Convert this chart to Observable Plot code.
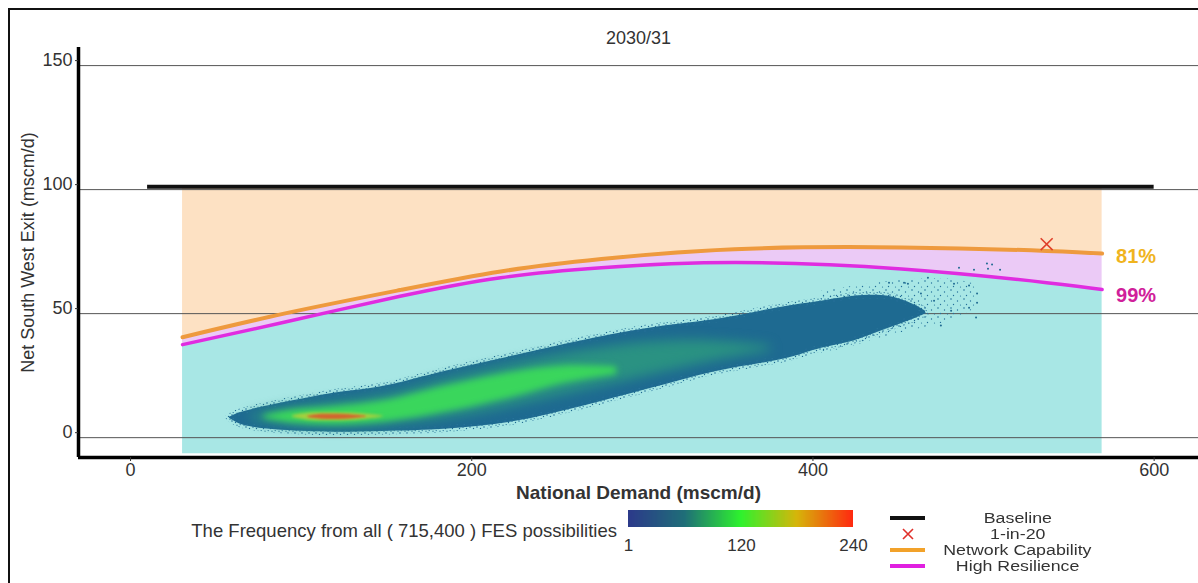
<!DOCTYPE html>
<html><head><meta charset="utf-8">
<script src="https://cdn.jsdelivr.net/npm/d3@7"></script>
<script src="https://cdn.jsdelivr.net/npm/@observablehq/plot@0.6"></script>
<style>
html,body{margin:0;padding:0;background:#fff;overflow:hidden;width:1198px;height:583px;font-family:"Liberation Sans",Arial,sans-serif;color:#333}
#frame{position:absolute;left:8px;top:8px;width:1400px;height:800px;border:2px solid #111;box-sizing:border-box}
#chart{position:absolute;left:0;top:0}
#caption{position:absolute;right:581px;top:520px;font-size:18.5px;white-space:nowrap;color:#333}
#cbar{position:absolute;left:618px;top:509px}
#cbar svg{font:17px "Liberation Sans",Arial,sans-serif !important;color:#333}
#cbar .tick line{display:none}
#keys{position:absolute;left:885px;top:510px}
.krow{display:flex;height:16px;align-items:center}
.kicon{width:45px;height:16px;display:flex;align-items:center;justify-content:center}
.kline{width:35px;height:4px}
.klabel{width:165px;margin-left:5px;text-align:center;font-size:14px;line-height:16px;color:#333;white-space:nowrap}
.klabel span{display:inline-block;transform:scaleX(1.27)}
#defs{position:absolute;width:0;height:0}
</style></head>
<body>
<svg id="defs">
  <defs>
    <pattern id="speckle" width="7" height="6" patternUnits="userSpaceOnUse">
      <circle cx="1" cy="1" r="0.8" fill="#25709a"/>
      <circle cx="4.5" cy="2.5" r="0.7" fill="#1e6a91"/>
      <circle cx="2.2" cy="4.6" r="0.7" fill="#2a769c"/>
      <circle cx="6" cy="5.2" r="0.6" fill="#1e6a91"/>
    </pattern>
    <pattern id="sparse" width="13" height="9" patternUnits="userSpaceOnUse">
      <circle cx="2" cy="2" r="0.8" fill="#22709a"/>
      <circle cx="8.5" cy="4" r="0.7" fill="#22709a"/>
      <circle cx="4.5" cy="7.5" r="0.7" fill="#22709a"/>
      <circle cx="11.5" cy="8" r="0.6" fill="#22709a"/>
    </pattern>
  </defs>
</svg>
<div id="frame"></div>
<div id="chart"></div>
<div id="caption"></div>
<div id="cbar"></div>
<div id="keys"></div>
<script>
// ---- text ----
const titleText = "2030/31";
const xLabel = "National Demand (mscm/d)";
const yLabel = "Net South West Exit (mscm/d)";
const captionText = "The Frequency from all ( 715,400 ) FES possibilities";
const legendNames = ["Baseline", "1-in-20", "Network Capability", "High Resilience"];
const capLabel = "81%";
const resLabel = "99%";

// ---- axes ----
const xTicks = [0, 200, 400, 600];
const yTicks = [0, 50, 100, 150];
const xDomain = [-30.5, 626];
const yDomain = [-8, 157.3];

// ---- baseline & 1-in-20 ----
const baselineValue = 101.2;
const baselineX = [10, 600];
const oneIn20 = {x: 537, y: 78};

// ---- capability curves ----
const curveX      = [30.5, 90, 158, 217, 276, 354, 452, 537, 569.5];
const capability  = [40.5, 50, 59.5, 67, 72, 76, 76.7, 75.3, 74.2];
const resilience  = [37.5, 46.5, 57, 64.5, 68.5, 70.6, 68, 62.5, 59.7];
const shadeTop = 100.8;
const shadeFloor = -6.5;

// ---- frequency cloud (bands) ----
const cloudOuterX  = [58, 64, 72, 85, 100, 120, 147, 186, 225, 264, 303, 342, 385, 405, 424, 444, 458, 466];
const cloudOuterLo = [7.8, 5.5, 4.2, 3.2, 2.6, 2.2, 2.5, 3.5, 6.5, 12.5, 19.5, 26.5, 32, 36, 39, 44, 47.5, 50];
const cloudOuterHi = [8.2, 10, 11.5, 13.5, 15.5, 18, 20.5, 27, 33, 39, 44, 47.5, 53, 55, 57, 57, 54, 51];
const cloudTealX   = [70, 90, 120, 150, 186, 225, 264, 303, 342, 375];
const cloudTealLo  = [7.6, 5.2, 4.2, 5, 8, 13, 19, 25, 31, 35];
const cloudTealHi  = [8.8, 12, 14.5, 17.5, 24, 30, 35, 38.5, 39, 37];
const cloudGreenX  = [78, 95, 120, 150, 186, 225, 255, 285];
const cloudGreenLo = [7.8, 6, 5.2, 6.5, 10.5, 16.5, 22, 25.5];
const cloudGreenHi = [8.8, 11, 12.5, 15, 21, 26.5, 29, 28.5];
const cloudYellowX  = [95, 105, 120, 135, 148];
const cloudYellowLo = [8.2, 7, 6.8, 7.2, 8.3];
const cloudYellowHi = [8.8, 9.9, 10, 9.6, 8.7];
const cloudRedX  = [104, 112, 122, 130, 138];
const cloudRedLo = [8.1, 7.4, 7.3, 7.6, 8.2];
const cloudRedHi = [8.6, 9.4, 9.4, 9.1, 8.6];
const sparseBandX  = [405, 424, 444, 463, 480, 495];
const sparseBandLo = [34, 37, 41, 44, 47, 52];
const sparseBandHi = [59, 61, 63, 64, 64, 62];
const sparseX = [485.6, 494.4, 502, 505, 502.6, 509.7, 491.5, 496.2, 496.2, 491.5, 475, 495.6, 481, 482.7, 471, 463.3, 467.4, 455.7, 453.4, 444.6];
const sparseY = [68.5, 67.7, 70.2, 69.8, 68.1, 67.7, 61.3, 58.1, 54.4, 52.4, 45.2, 48.4, 51.2, 62.1, 55.2, 58.1, 64.5, 62.1, 62.5, 62.5];

// ---- colour bar ----
const freqStops  = [1, 60, 120, 180, 240];
const freqColors = ["#2c3a8a", "#1f6e78", "#2ef22e", "#d6b60a", "#ff2a10"];
const freqTicks  = [1, 120, 240];

// ---- build tables ----
const curveTable = curveX.map((x, i) => ({x, cap: capability[i], res: resilience[i]}));
const band = (xs, lo, hi) => xs.map((x, i) => ({x, lo: lo[i], hi: hi[i]}));
const outer = band(cloudOuterX, cloudOuterLo, cloudOuterHi);
const teal = band(cloudTealX, cloudTealLo, cloudTealHi);
const green = band(cloudGreenX, cloudGreenLo, cloudGreenHi);
const yellow = band(cloudYellowX, cloudYellowLo, cloudYellowHi);
const red = band(cloudRedX, cloudRedLo, cloudRedHi);
const sparseBand = band(sparseBandX, sparseBandLo, sparseBandHi);
const sparse = sparseX.map((x, i) => ({x, y: sparseY[i]}));
const capEnd = curveTable[curveTable.length - 1];

const font = '"Liberation Sans", Arial, sans-serif';
const cc = "catmull-rom";
const chart = Plot.plot({
  width: 1198, height: 510,
  marginLeft: 78, marginRight: 0, marginTop: 47, marginBottom: 53,
  x: {domain: xDomain},
  y: {domain: yDomain},
  style: {fontFamily: font, fontSize: "18px", color: "#333", background: "transparent", overflow: "visible"},
  marks: [
    Plot.areaY(curveTable, {x: "x", y1: "cap", y2: shadeTop, fill: "#fde1c3", curve: "natural"}),
    Plot.areaY(curveTable, {x: "x", y1: "res", y2: "cap", fill: "#ebcaf6", curve: "natural"}),
    Plot.areaY(curveTable, {x: "x", y1: shadeFloor, y2: "res", fill: "#a8e7e5", curve: "natural"}),
    Plot.gridY(yTicks, {stroke: "#555", strokeOpacity: 1, strokeWidth: 1}),
    Plot.areaY(sparseBand, {x: "x", y1: "lo", y2: "hi", fill: "url(#sparse)", curve: cc}),
    Plot.areaY(outer, {x: "x", y1: "lo", y2: "hi", fill: "#1e6a91", stroke: "url(#speckle)", strokeWidth: 7, curve: cc}),
    Plot.areaY(teal, {x: "x", y1: "lo", y2: "hi", fill: "#2a9282", curve: cc, imageFilter: "blur(6px)"}),
    Plot.areaY(green, {x: "x", y1: "lo", y2: "hi", fill: "#3ad65c", curve: cc, imageFilter: "blur(3px)"}),
    Plot.areaY(yellow, {x: "x", y1: "lo", y2: "hi", fill: "#a6cf3e", curve: cc, imageFilter: "blur(1.5px)"}),
    Plot.areaY(red, {x: "x", y1: "lo", y2: "hi", fill: "#d2662f", curve: cc, imageFilter: "blur(1px)"}),
    Plot.dot(sparse, {x: "x", y: "y", r: 1, fill: "#1e6a91"}),
    Plot.lineY(curveTable, {x: "x", y: "cap", stroke: "#ee9a3e", strokeWidth: 4, curve: "natural"}),
    Plot.lineY(curveTable, {x: "x", y: "res", stroke: "#e02ce0", strokeWidth: 3.5, curve: "natural"}),
    Plot.ruleY([baselineValue], {x1: baselineX[0], x2: baselineX[1], stroke: "#111", strokeWidth: 4}),
    Plot.dot([oneIn20], {x: "x", y: "y", symbol: "times", r: 5.5, stroke: "#e0402a", strokeWidth: 1.6}),
    Plot.text([capEnd], {x: "x", y: "cap", text: () => capLabel, textAnchor: "start", dx: 14, dy: 3, fill: "#f0b41e", fontWeight: "bold", fontSize: 20}),
    Plot.text([capEnd], {x: "x", y: "res", text: () => resLabel, textAnchor: "start", dx: 14, dy: 6, fill: "#d0209a", fontWeight: "bold", fontSize: 20}),
    Plot.ruleX([xDomain[0]], {stroke: "#000", strokeWidth: 3.5}),
    Plot.ruleY([yDomain[0]], {stroke: "#000", strokeWidth: 3.5}),
    Plot.axisY(yTicks, {tickSize: 3, tickPadding: 3, label: null, dy: -5, fontSize: 18}),
    Plot.axisX(xTicks, {tickSize: 4, tickPadding: 2, label: null, fontSize: 18}),
    Plot.text([titleText], {frameAnchor: "top", lineAnchor: "middle", dy: -9, fontSize: 18, fill: "#333"}),
    Plot.text([yLabel], {frameAnchor: "left", textAnchor: "middle", lineAnchor: "middle", rotate: -90, dx: -50, fontSize: 18, fill: "#333"}),
    Plot.text([xLabel], {frameAnchor: "bottom", lineAnchor: "middle", dy: 35, fontSize: 19, fontWeight: "bold", fill: "#333"})
  ]
});
document.getElementById("chart").appendChild(chart);

document.getElementById("caption").textContent = captionText;

const ramp = Plot.legend({
  color: {type: "linear", domain: freqStops, range: freqColors},
  ticks: freqTicks, tickFormat: d => String(d), label: null,
  width: 245, height: 48, marginLeft: 10, marginRight: 10, marginTop: 1, marginBottom: 30, tickSize: 9
});
document.getElementById("cbar").appendChild(ramp);

const icons = [
  '<div class="kline" style="background:#111"></div>',
  '<svg width="12" height="12"><path d="M1,1L11,11M11,1L1,11" stroke="#e0302a" stroke-width="1.6"/></svg>',
  '<div class="kline" style="background:#f2a22a;height:3.5px"></div>',
  '<div class="kline" style="background:#e020e0;height:3.5px"></div>'
];
document.getElementById("keys").innerHTML = legendNames.map((n, i) =>
  `<div class="krow"><div class="kicon">${icons[i]}</div><div class="klabel"><span>${n}</span></div></div>`).join("");
</script>
</body></html>
